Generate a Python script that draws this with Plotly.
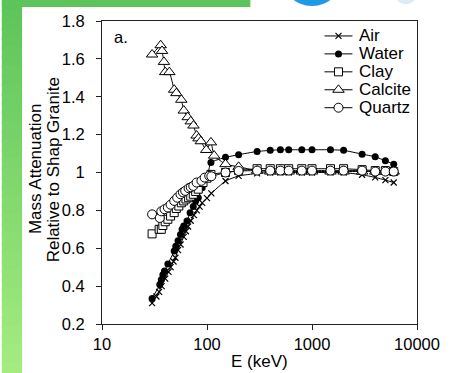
import plotly.graph_objects as go

# ---------------- data ----------------
E_high = [150, 200, 300, 400, 500, 600, 800, 1000, 1500, 2000, 3000, 4000, 5000, 6000]

air_E_low = [30, 33, 35, 37, 40, 43, 45, 48, 50, 53, 56, 60, 63, 66, 70, 75, 80, 85, 90, 100, 110]
air_low = [0.31, 0.345, 0.37, 0.40, 0.44, 0.475, 0.50, 0.53, 0.55, 0.59, 0.62, 0.66, 0.69, 0.715,
           0.745, 0.775, 0.80, 0.82, 0.84, 0.865, 0.89]
air_high = [0.955, 0.982, 0.995, 1.0, 1.0, 1.0, 1.0, 1.0, 1.0, 1.0, 0.988, 0.974, 0.96, 0.947]

water_E_low = [30, 35.5, 36.7, 38, 39.4, 42.4, 48.7, 50.4, 53, 55.9, 57.9, 60, 64.5, 69, 74, 78,
               82.6, 90, 100, 109]
water_low = [0.335, 0.408, 0.434, 0.46, 0.48, 0.517, 0.585, 0.611, 0.64, 0.673, 0.70, 0.717, 0.744,
             0.788, 0.82, 0.85, 0.867, 0.92, 0.97, 1.053]
water_high = [1.08, 1.094, 1.111, 1.117, 1.12, 1.12, 1.12, 1.12, 1.12, 1.117, 1.097, 1.083, 1.062, 1.044]

clay_E_low = [30, 35, 36.7, 38, 40, 42.4, 45, 48.7, 51, 53.9, 57, 60, 63, 66.8, 70, 74, 78, 82.6,
              91.6, 100, 109]
clay_low = [0.676, 0.70, 0.70, 0.72, 0.74, 0.753, 0.77, 0.788, 0.81, 0.823, 0.84, 0.85, 0.86, 0.867,
            0.875, 0.885, 0.90, 0.912, 0.947, 0.97, 0.99]
clay_high = [1.0, 1.01, 1.02, 1.02, 1.02, 1.02, 1.02, 1.02, 1.02, 1.02, 1.015, 1.01, 1.01, 1.005]

calcite_E_low = [30, 36.2, 37.3, 38.9, 40, 43.8, 48.7, 51.1, 56.9, 60.1, 65.5, 70, 74.3, 79.6, 83,
                 87.3, 98.4, 109, 117]
calcite_low = [1.623, 1.672, 1.642, 1.584, 1.53, 1.53, 1.437, 1.419, 1.384, 1.327, 1.292, 1.27,
               1.248, 1.195, 1.18, 1.165, 1.119, 1.159, 1.089]
calcite_high = [1.044, 1.03, 1.01, 1.005, 1.005, 1.005, 1.005, 1.005, 1.005, 1.005, 1.005, 1.005,
                1.005, 1.005]

quartz_E_low = [30, 35.5, 36.7, 39.4, 42.4, 45, 48.7, 52, 55.9, 59, 62, 66.8, 70, 74, 79.6, 88.5,
                95, 105, 110]
quartz_low = [0.779, 0.76, 0.795, 0.806, 0.815, 0.83, 0.85, 0.867, 0.885, 0.895, 0.903, 0.917,
              0.922, 0.929, 0.947, 0.956, 0.973, 0.982, 0.98]
quartz_high = [1.0, 1.008, 1.01, 1.01, 1.01, 1.01, 1.01, 1.01, 1.01, 1.01, 1.01, 1.005, 1.005, 1.005]

series_names = ["Air", "Water", "Clay", "Calcite", "Quartz"]
x_ticks = [10, 100, 1000, 10000]
x_ticktext = ["10", "100", "1000", "10000"]

# ---------------- figure ----------------
W, H = 452, 373
L, R, T, B = 102, 23, 20, 49
PW, PH = W - L - R, H - T - B

def px(x):
    return (x - L) / PW

def py(y):
    return (H - B - y) / PH

FONT = "Liberation Sans, Arial, sans-serif"

styles = {
    "Air": dict(symbol="x-thin", size=6, color="black", line=dict(color="black", width=1.2)),
    "Water": dict(symbol="circle", size=7, color="black", line=dict(color="black", width=0)),
    "Clay": dict(symbol="square", size=8, color="white", line=dict(color="black", width=1)),
    "Calcite": dict(symbol="triangle-up", size=10, color="white", line=dict(color="black", width=1)),
    "Quartz": dict(symbol="circle", size=9, color="white", line=dict(color="black", width=1)),
}

data = {
    "Air": (air_E_low + E_high, air_low + air_high),
    "Water": (water_E_low + E_high, water_low + water_high),
    "Clay": (clay_E_low + E_high, clay_low + clay_high),
    "Calcite": (calcite_E_low + E_high, calcite_low + calcite_high),
    "Quartz": (quartz_E_low + E_high, quartz_low + quartz_high),
}

fig = go.Figure()
for name in series_names:
    xs, ys = data[name]
    fig.add_trace(go.Scatter(
        x=xs, y=ys, name=name, mode="lines+markers", showlegend=False,
        line=dict(color="black", width=1, shape="spline", smoothing=0.4),
        marker=styles[name],
    ))

# ---- compact legend (Excel-like row spacing) drawn on a hidden pixel-space overlay axis ----
LEG_X0, LEG_X1, LEG_TXT, LEG_Y0, LEG_DY = 333, 362, 367, 35, 18
annotations = []
for i, name in enumerate(series_names):
    yy = LEG_Y0 + LEG_DY * i
    fig.add_trace(go.Scatter(
        x=[LEG_X0, LEG_X1], y=[yy, yy], mode="lines", xaxis="x2", yaxis="y2",
        showlegend=False, hoverinfo="skip", line=dict(color="black", width=1), cliponaxis=False))
    fig.add_trace(go.Scatter(
        x=[(LEG_X0 + LEG_X1) / 2], y=[yy], mode="markers", xaxis="x2", yaxis="y2",
        showlegend=False, hoverinfo="skip", marker=styles[name], cliponaxis=False))
    annotations.append(dict(text=name, xref="paper", yref="paper", x=px(LEG_TXT), y=py(yy),
                            xanchor="left", yanchor="middle", showarrow=False,
                            font=dict(size=17, color="black", family=FONT)))

shapes = []
# green gradient strip on the left (overlapping bands to avoid seams)
top_c = (92, 196, 90)
bot_c = (165, 236, 128)
n = 40
band = H / n
for i in range(n):
    f = (i + 0.5) / n
    c = tuple(int(round(top_c[k] + (bot_c[k] - top_c[k]) * f)) for k in range(3))
    y_top = i * band - 1
    y_bot = (i + 1) * band + 2
    shapes.append(dict(type="rect", xref="paper", yref="paper",
                       x0=px(-2), x1=px(19), y0=py(y_bot), y1=py(y_top),
                       fillcolor="rgb(%d,%d,%d)" % c, line=dict(width=0), layer="below"))
# top green band
shapes.append(dict(type="rect", xref="paper", yref="paper",
                   x0=px(-2), x1=px(256), y0=py(6), y1=py(-2),
                   fillcolor="rgb(92,196,90)", line=dict(width=0), layer="below"))
# partial blue logo at the top
shapes.append(dict(type="circle", xref="paper", yref="paper",
                   x0=px(287), x1=px(353), y0=py(5), y1=py(-61),
                   fillcolor="rgb(30,155,228)", line=dict(width=0), layer="below"))
shapes.append(dict(type="circle", xref="paper", yref="paper",
                   x0=px(405), x1=px(430), y0=py(3), y1=py(-22),
                   fillcolor="rgb(222,236,248)", line=dict(width=0), layer="below"))

annotations += [
    dict(text="a.", xref="paper", yref="paper", x=px(112), y=py(36), xanchor="left",
         yanchor="middle", showarrow=False, font=dict(size=16.5, color="black", family=FONT)),
    dict(text="Mass Attenuation", xref="paper", yref="paper", x=px(33), y=py(169),
         textangle=-90, xanchor="center", yanchor="middle", showarrow=False,
         font=dict(size=17, color="black", family=FONT)),
    dict(text="Relative to Shap Granite", xref="paper", yref="paper", x=px(52), y=py(169),
         textangle=-90, xanchor="center", yanchor="middle", showarrow=False,
         font=dict(size=17, color="black", family=FONT)),
    dict(text="E (keV)", xref="paper", yref="paper", x=0.5, y=py(362),
         xanchor="center", yanchor="middle", showarrow=False,
         font=dict(size=17, color="black", family=FONT)),
]

fig.update_layout(
    width=W, height=H,
    margin=dict(l=L, r=R, t=T, b=B, pad=0),
    paper_bgcolor="white", plot_bgcolor="white",
    font=dict(family=FONT, size=16, color="black"),
    shapes=shapes, annotations=annotations,
    showlegend=False,
    xaxis=dict(type="log", range=[1, 4], tickvals=x_ticks, ticktext=x_ticktext,
               showgrid=False, zeroline=False, showline=True, linecolor="#222", linewidth=1,
               mirror=True, ticks="outside", ticklen=5, tickcolor="#222",
               tickfont=dict(size=16.5, family=FONT, color="black")),
    yaxis=dict(range=[0.2, 1.8], dtick=0.2, tick0=0.2,
               showgrid=False, zeroline=False, showline=True, linecolor="#222", linewidth=1,
               mirror=True, ticks="outside", ticklen=5, tickcolor="#222",
               ticklabelstandoff=8,
               tickfont=dict(size=16.5, family=FONT, color="black")),
    xaxis2=dict(overlaying="x", range=[L, W - R], visible=False, fixedrange=True),
    yaxis2=dict(overlaying="y", range=[H - B, T], visible=False, fixedrange=True),
)

fig.write_html("out.html")
